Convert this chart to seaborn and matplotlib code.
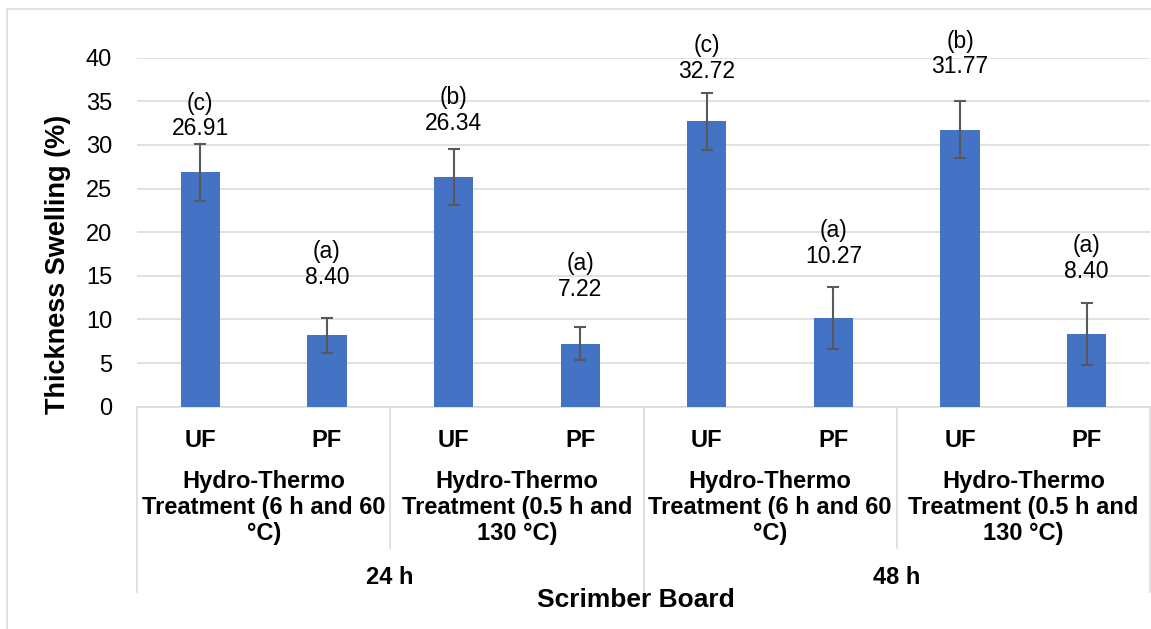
import pandas as pd
import matplotlib.pyplot as plt
import seaborn as sns
from matplotlib.patches import Rectangle
from matplotlib.transforms import blended_transform_factory

# values
time_groups = ['24 h', '48 h']
treatments = ['Hydro-Thermo\nTreatment (6 h and 60\n°C)',
              'Hydro-Thermo\nTreatment (0.5 h and\n130 °C)']
resins = ['UF', 'PF']
swelling = [26.87, 8.2, 26.33, 7.2, 32.72, 10.2, 31.77, 8.3]
std_err = [3.25, 2.0, 3.2, 1.9, 3.25, 3.55, 3.23, 3.55]
value_labels = ['26.91', '8.40', '26.34', '7.22', '32.72', '10.27', '31.77', '8.40']
letters = ['(c)', '(a)', '(b)', '(a)', '(c)', '(a)', '(b)', '(a)']
label_base = [31.1, 14.1, 31.7, 12.7, 37.7, 16.5, 38.2, 14.8]

rows = []
for t in time_groups:
    for tr in treatments:
        for r in resins:
            rows.append({'Time': t, 'Treatment': tr, 'Resin': r})
df = pd.DataFrame(rows)
df['Slot'] = [f'{i}' for i in range(len(df))]
df['Swelling'] = swelling

W, H = 1151, 629
plt.rcParams['font.family'] = ['Liberation Sans', 'DejaVu Sans']
fig = plt.figure(figsize=(W / 100, H / 100), dpi=100)
ax = fig.add_axes([137 / W, 1 - 406.7 / H, (1150 - 137) / W, (406.7 - 57.7) / H])

sns.barplot(data=df, x='Slot', y='Swelling', color='#4472C4', saturation=1,
            width=0.31, errorbar=None, ax=ax, zorder=3)
ax.errorbar(range(len(df)), df['Swelling'], yerr=std_err, fmt='none',
            ecolor='#595959', elinewidth=1.5, capsize=4.3, capthick=1.5, zorder=4)

for i in range(len(df)):
    ax.text(i, label_base[i], f'{letters[i]}\n{value_labels[i]}', ha='center',
            va='baseline', fontsize=16.5, linespacing=1.15, clip_on=False)

ax.set_xlim(-0.5, 7.5)
ax.set_ylim(0, 40)
ax.set_yticks(range(0, 41, 5))
ax.tick_params(axis='y', length=0, pad=18, labelsize=17)
ax.grid(axis='y', color='#D9D9D9', linewidth=1.1, zorder=0)
ax.set_axisbelow(True)
for s in ['left', 'top', 'right']:
    ax.spines[s].set_visible(False)
ax.spines['bottom'].set_color('#D9D9D9')
ax.spines['bottom'].set_linewidth(1.1)

ax.set_xticks(range(len(df)))
ax.set_xticklabels(df['Resin'], fontsize=17, fontweight='bold')
ax.tick_params(axis='x', length=0, pad=16)
ax.set_xlabel('')
ax.set_ylabel('')

tr = blended_transform_factory(ax.transData, fig.transFigure)


def fy(px):
    return 1 - px / H


# separators of the multi-level category axis
for x in [-0.5, 3.5, 7.5]:
    ax.plot([x, x], [fy(407), fy(592)], color='#D9D9D9', lw=1.1, transform=tr, clip_on=False)
for x in [1.5, 5.5]:
    ax.plot([x, x], [fy(407), fy(548)], color='#D9D9D9', lw=1.1, transform=tr, clip_on=False)

k = 0
for t in time_groups:
    for trt in treatments:
        ax.text(2 * k + 0.5, fy(470), trt, transform=tr, ha='center', va='top',
                fontsize=17, fontweight='bold', linespacing=1.18)
        k += 1
for k, t in enumerate(time_groups):
    ax.text(4 * k + 1.5, fy(578), t, transform=tr, ha='center', va='center',
            fontsize=17, fontweight='bold')

fig.text(635.5 / W, fy(600), 'Scrimber Board', ha='center', va='center',
         fontsize=19, fontweight='bold')
fig.text(58 / W, fy(264), 'Thickness Swelling (%)', ha='center', va='center',
         rotation=90, fontsize=19.5, fontweight='bold')

fig.patches.append(Rectangle((7 / W, -0.1), 1.2, fy(9.3) + 0.1, transform=fig.transFigure,
                             fill=False, edgecolor='#D9D9D9', lw=1.1))

fig.savefig('out.png', dpi=100)
